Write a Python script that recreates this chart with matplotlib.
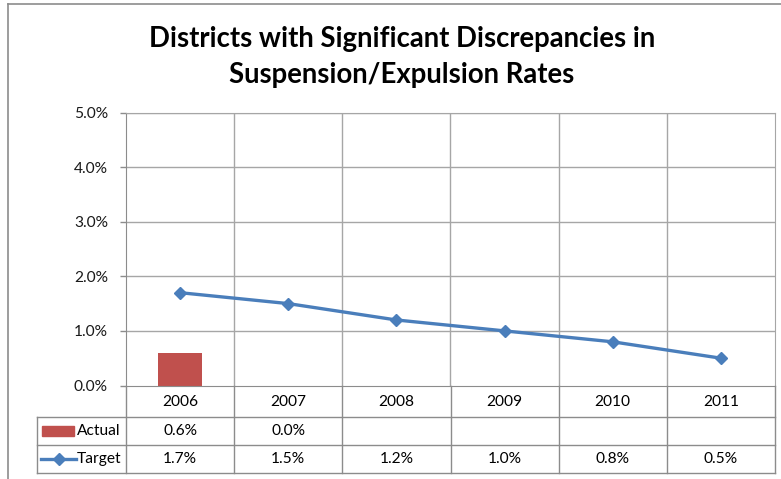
import matplotlib.pyplot as plt
from matplotlib.lines import Line2D
import numpy as np

plt.rcParams["font.family"] = ["Lato", "DejaVu Sans"]

years = ["2006", "2007", "2008", "2009", "2010", "2011"]
actual = [0.6, 0.0]
target = [1.7, 1.5, 1.2, 1.0, 0.8, 0.5]
actual_labels = ["0.6%", "0.0%", "", "", "", ""]
target_labels = ["1.7%", "1.5%", "1.2%", "1.0%", "0.8%", "0.5%"]
title = "Districts with Significant Discrepancies in\nSuspension/Expulsion Rates"

W, H = 781, 479
BAR_COLOR = "#C0504D"
LINE_COLOR = "#4A7EBB"
GRID = "#a6a6a6"
EDGE = "#8c8c8c"
FS = 11.2

fig = plt.figure(figsize=(W / 100, H / 100), dpi=100)


def fbox(x0, y0, x1, y1):
    # pixel box (top-left origin) -> figure fraction rect
    return [x0 / W, 1 - y1 / H, (x1 - x0) / W, (y1 - y0) / H]


# outer chart border
fig.add_artist(Line2D([8 / W, 1], [1 - 4 / H, 1 - 4 / H], color=EDGE, lw=1.2))
fig.add_artist(Line2D([8 / W, 8 / W], [0, 1 - 4 / H], color=EDGE, lw=1.2))

# main plot area
x = np.arange(len(years))
ax = fig.add_axes(fbox(126, 112.5, 775, 385.5))
ax.bar(x[:len(actual)], actual, width=0.41, color=BAR_COLOR, zorder=2)
ax.plot(x, target, color=LINE_COLOR, lw=2.4, marker="D", markersize=6.5, zorder=3)

ax.set_xlim(-0.5, len(years) - 0.5)
ax.set_ylim(0, 5)
ax.set_yticks(np.arange(0, 6, 1))
ax.set_yticklabels([f"{v:.1f}%" for v in range(6)], fontsize=FS)
ax.set_xticks([])
ax.tick_params(axis="y", length=4, width=1, color=EDGE, pad=9, labelcolor="#1a1a1a")
for v in range(1, 6):
    ax.axhline(v, color=GRID, lw=1, zorder=1)
for b in np.arange(0.5, len(years) - 0.5, 1):
    ax.axvline(b, color=GRID, lw=1, zorder=1)
for s in ["top", "right"]:
    ax.spines[s].set_color(GRID)
for s in ["left", "bottom"]:
    ax.spines[s].set_color(EDGE)

# data table below plot
cell_w = 649 / len(years)
lab_w = (126 - 37) / cell_w
tx = fig.add_axes(fbox(37, 385.5, 775, 473))
tx.set_xlim(-0.5 - lab_w, len(years) - 0.5)
tx.set_ylim(87.5, 0)
tx.axis("off")

rows = [0, 31.5, 59.5, 87.5]
lk = dict(color=EDGE, lw=1, clip_on=False)
for r in rows[1:]:
    tx.plot([-0.5 - lab_w, len(years) - 0.5], [r, r], **lk)
tx.plot([-0.5 - lab_w] * 2, [rows[1], rows[3]], **lk)
for b in np.arange(-0.5, len(years), 1):
    tx.plot([b, b], [rows[0], rows[3]], **lk)

mid = [(rows[i] + rows[i + 1]) / 2 for i in range(3)]
for i, yr in enumerate(years):
    tx.text(i, mid[0] + 1, yr, ha="center", va="center", fontsize=FS)
    tx.text(i, mid[1], actual_labels[i], ha="center", va="center", fontsize=FS)
    tx.text(i, mid[2], target_labels[i], ha="center", va="center", fontsize=FS)

# legend keys in the label column
x0 = -0.5 - lab_w
tx.add_patch(plt.Rectangle((x0 + 5 / cell_w, mid[1] - 5), 32 / cell_w, 10,
                           color=BAR_COLOR, clip_on=False))
tx.text(x0 + 40 / cell_w, mid[1], "Actual", ha="left", va="center", fontsize=FS)
tx.plot([x0 + 4 / cell_w, x0 + 39 / cell_w], [mid[2], mid[2]], color=LINE_COLOR, lw=2.4,
        clip_on=False)
tx.plot([x0 + 21.5 / cell_w], [mid[2]], marker="D", color=LINE_COLOR, markersize=6.5,
        clip_on=False)
tx.text(x0 + 40 / cell_w, mid[2], "Target", ha="left", va="center", fontsize=FS)

fig.text(402 / W, 1 - 57 / H, title, ha="center", va="center", fontsize=19.8,
         fontweight="bold", linespacing=1.45)

fig.savefig("out.png", dpi=100)
